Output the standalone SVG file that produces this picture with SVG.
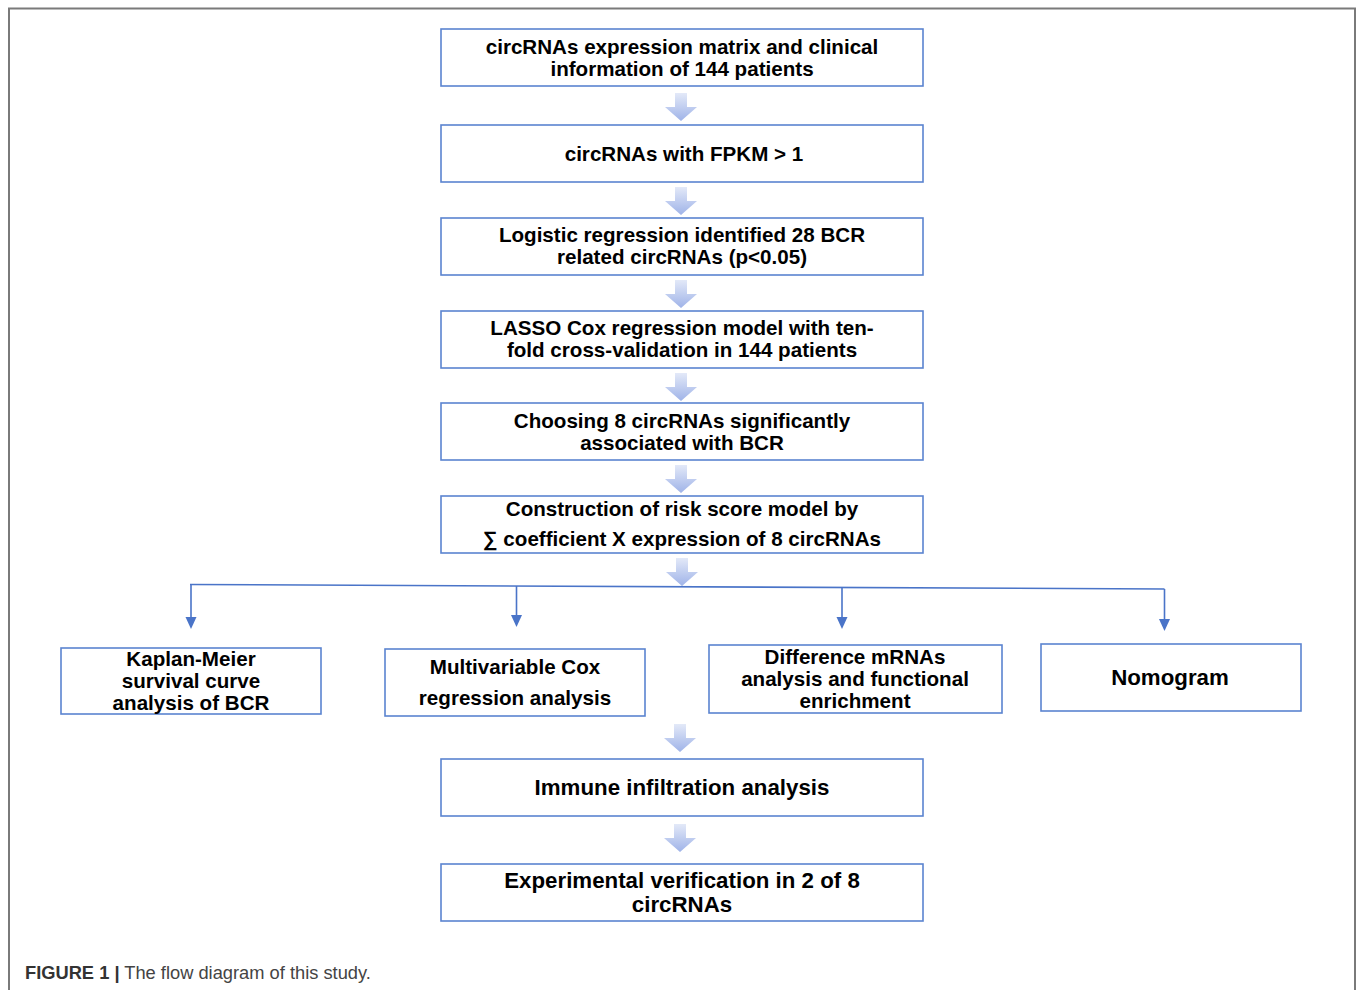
<svg xmlns="http://www.w3.org/2000/svg" width="1357" height="990" viewBox="0 0 1357 990">
<style>
.box{fill:#fff;stroke:#5b84d0;stroke-width:1.6}
.t{font-family:"Liberation Sans",Arial,sans-serif;font-weight:bold;font-size:20.6px;fill:#000;text-anchor:middle}
.tl{font-size:22.3px}
.ln{stroke:#4a74c8;stroke-width:1.6;fill:none}
.fat{fill:url(#g)}
</style>
<defs>
<linearGradient id="g" x1="0" y1="0" x2="0" y2="1">
<stop offset="0" stop-color="#e3e9f8"/>
<stop offset="1" stop-color="#9fb3e8"/>
</linearGradient>
</defs>
<rect width="1357" height="990" fill="#fff"/>
<path d="M9,990 V8.5 H1355 V990" fill="none" stroke="#7a7a7a" stroke-width="2"/>

<g id="connectors">
<path class="fat" d="M675,93 H687 V107 H697 L681,121 L665,107 H675 Z"/>
<path class="fat" d="M675,187 H687 V201 H697 L681,215 L665,201 H675 Z"/>
<path class="fat" d="M675,280 H687 V294 H697 L681,308 L665,294 H675 Z"/>
<path class="fat" d="M675,373 H687 V387 H697 L681,401 L665,387 H675 Z"/>
<path class="fat" d="M675,465 H687 V479 H697 L681,493 L665,479 H675 Z"/>
<path class="fat" d="M676,558 H688 V572 H698 L682,586 L666,572 H676 Z"/>
<path class="fat" d="M674,724 H686 V738 H696 L680,752 L664,738 H674 Z"/>
<path class="fat" d="M674,824 H686 V838 H696 L680,852 L664,838 H674 Z"/>
<path class="ln" d="M190,584.5 L1164.5,589"/>
<g fill="#4a74c8">
<line class="ln" x1="191" y1="584.5" x2="191" y2="618"/>
<path d="M185.5,617 H196.5 L191,629 Z"/>
<line class="ln" x1="516.5" y1="586" x2="516.5" y2="616"/>
<path d="M511,615 H522 L516.5,627 Z"/>
<line class="ln" x1="842" y1="587.5" x2="842" y2="618"/>
<path d="M836.5,617 H847.5 L842,629 Z"/>
<line class="ln" x1="1164.5" y1="589" x2="1164.5" y2="620"/>
<path d="M1159,619 H1170 L1164.5,631 Z"/>
</g>
</g>

<g id="n1"><rect class="box" x="441" y="29" width="482" height="57"/>
<text class="t" x="682" y="53.5">circRNAs expression matrix and clinical</text>
<text class="t" x="682" y="75.5">information of 144 patients</text></g>

<g id="n2"><rect class="box" x="441" y="125" width="482" height="57"/>
<text class="t" x="684" y="160.5">circRNAs with FPKM &gt; 1</text></g>

<g id="n3"><rect class="box" x="441" y="218" width="482" height="57"/>
<text class="t" x="682" y="242">Logistic regression identified 28 BCR</text>
<text class="t" x="682" y="264">related circRNAs (p&lt;0.05)</text></g>

<g id="n4"><rect class="box" x="441" y="311" width="482" height="57"/>
<text class="t" x="682" y="335">LASSO Cox regression model with ten-</text>
<text class="t" x="682" y="357">fold cross-validation in 144 patients</text></g>

<g id="n5"><rect class="box" x="441" y="403" width="482" height="57"/>
<text class="t" x="682" y="427.5">Choosing 8 circRNAs significantly</text>
<text class="t" x="682" y="449.5">associated with BCR</text></g>

<g id="n6"><rect class="box" x="441" y="496" width="482" height="57"/>
<text class="t" x="682" y="515.5">Construction of risk score model by</text>
<text class="t" x="682" y="546">∑ coefficient X expression of 8 circRNAs</text></g>

<g id="n7"><rect class="box" x="61" y="648" width="260" height="66"/>
<text class="t" x="191" y="665.5">Kaplan-Meier</text>
<text class="t" x="191" y="687.5">survival curve</text>
<text class="t" x="191" y="710">analysis of BCR</text></g>

<g id="n8"><rect class="box" x="385" y="649" width="260" height="67"/>
<text class="t" x="515" y="673.5">Multivariable Cox</text>
<text class="t" x="515" y="704.5">regression analysis</text></g>

<g id="n9"><rect class="box" x="709" y="645" width="293" height="68"/>
<text class="t" x="855" y="663.5">Difference mRNAs</text>
<text class="t" x="855" y="685.5">analysis and functional</text>
<text class="t" x="855" y="707.5">enrichment</text></g>

<g id="n10"><rect class="box" x="1041" y="644" width="260" height="67"/>
<text class="t tl" x="1170" y="685">Nomogram</text></g>

<g id="n11"><rect class="box" x="441" y="759" width="482" height="57"/>
<text class="t tl" x="682" y="795">Immune infiltration analysis</text></g>

<g id="n12"><rect class="box" x="441" y="864" width="482" height="57"/>
<text class="t tl" x="682" y="888">Experimental verification in 2 of 8</text>
<text class="t tl" x="682" y="912">circRNAs</text></g>

<text x="25" y="979" font-family="Liberation Sans,Arial,sans-serif" font-size="18.3" fill="#444"><tspan font-weight="bold" fill="#333">FIGURE 1 |</tspan> The flow diagram of this study.</text>
</svg>
